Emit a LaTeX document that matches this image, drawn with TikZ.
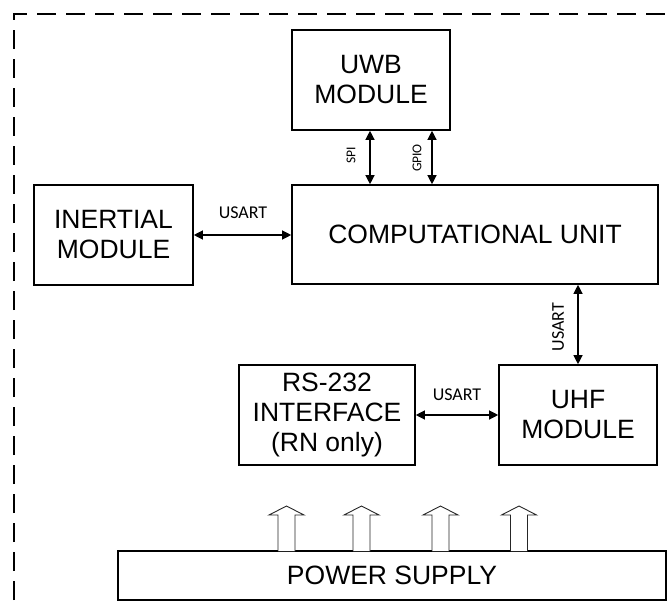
\documentclass[tikz,border=0pt]{standalone}
\usepackage{fontspec}
\setmainfont{Liberation Sans}
\newfontfamily\lblfont{Carlito}
\usetikzlibrary{arrows.meta}
\tikzset{
  blk/.style={draw, line width=1.6pt, align=center, inner sep=0pt,
    font=\fontsize{26.5}{30}\selectfont},
  biarrow/.style={line width=1.2pt, {Triangle[length=9pt,width=9pt]}-{Triangle[length=9pt,width=9pt]}},
  lbl/.style={font=\lblfont\fontsize{18}{20}\selectfont, inner sep=0pt},
  slbl/.style={font=\lblfont\fontsize{13.5}{15}\selectfont, inner sep=0pt, rotate=90},
  hollow/.style={draw=black!85, line width=0.9pt, fill=white},
  border/.style={line width=2pt, dash pattern=on 19pt off 10pt}
}
\begin{document}
\begin{tikzpicture}[x=1pt,y=-1pt]
\useasboundingbox (0,0) rectangle (669,604);
\clip (0,0) rectangle (669,604);
% dashed enclosure
\draw[border] (14,629) -- (14,14) -- (700,14);
% blocks
\node[blk, minimum width=158pt, minimum height=100pt] (uwb) at (371,80) {UWB\\MODULE};
\node[blk, minimum width=366pt, minimum height=99pt] (cu) at (475,234.5) {COMPUTATIONAL UNIT};
\node[blk, minimum width=159pt, minimum height=100pt] (imu) at (113.5,235) {INERTIAL\\MODULE};
\node[blk, minimum width=176pt, minimum height=100pt] (rs) at (327,415) {RS-232\\INTERFACE\\(RN only)};
\node[blk, minimum width=158pt, minimum height=100pt] (uhf) at (578,415) {UHF\\MODULE};
\node[blk, minimum width=548pt, minimum height=49pt] (pwr) at (392,575.5) {POWER SUPPLY};
% connectors
\coordinate (spiT) at ([xshift=-1pt]uwb.south);
\coordinate (gpioT) at ([xshift=61pt]uwb.south);
\draw[biarrow] (spiT) -- (spiT |- cu.north);
\draw[biarrow] (gpioT) -- (gpioT |- cu.north);
\node[slbl] (spil) at (351,155) {SPI};
\node[slbl] (gpiol) at (417,158) {GPIO};
\draw[biarrow] (imu.east) -- (imu.east -| cu.west);
\node[lbl] (u1) at (243,213) {USART};
\draw[biarrow] (cu.south -| uhf.north) -- (uhf.north);
\node[lbl, rotate=90] (u2) at (558,327) {USART};
\draw[biarrow] (rs.east) -- (uhf.west);
\node[lbl] (u3) at (457,395) {USART};
% hollow power arrows
\foreach \cx in {286.5,361.5,440.5,519}{
  \draw[hollow] (\cx-8.5,551) -- (\cx-8.5,515) -- (\cx-17.5,515) -- (\cx,506)
     -- (\cx+17.5,515) -- (\cx+8.5,515) -- (\cx+8.5,551);
}
\end{tikzpicture}
\end{document}
